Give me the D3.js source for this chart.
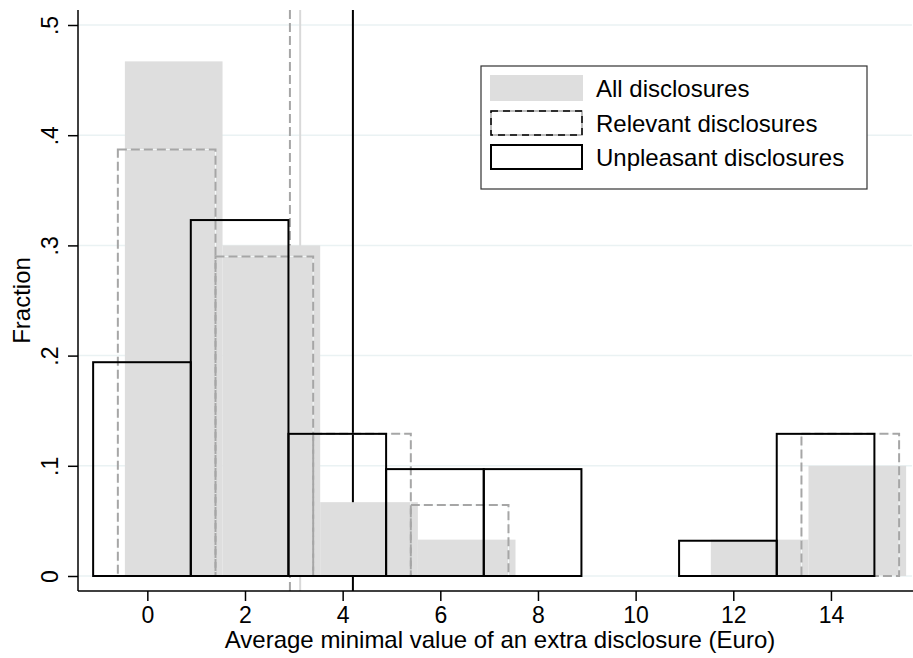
<!DOCTYPE html>
<html><head><meta charset="utf-8">
<script src="https://cdn.jsdelivr.net/npm/d3@7"></script>
<style>body{margin:0;background:#fff}svg{display:block}text{font-family:"Liberation Sans",Arial,sans-serif;fill:#000}</style>
</head><body><svg id="c" width="913" height="658"></svg>
<script>
// Histogram bin settings (data units, Euro)
const binWidth = 2.0;
const allStart = -0.46;
const relStart = -0.604;
const unpStart = -1.11;
// Fractions per bin
const allFrac = [0.467, 0.300, 0.067, 0.033, 0, 0, 0.033, 0.100];
const relFrac = [0.387, 0.290, 0.129, 0.0645, 0, 0, 0, 0.129];
const unpFrac = [0.194, 0.323, 0.129, 0.097, 0.097, 0, 0.032, 0.129];
// Mean lines
const meanRel = 2.92, meanAll = 3.13, meanUnp = 4.21;
// Ticks
const xTicks = [0, 2, 4, 6, 8, 10, 12, 14];
const yTicks = [0, 0.1, 0.2, 0.3, 0.4, 0.5];
const yTickLabels = ["0", ".1", ".2", ".3", ".4", ".5"];
const legendLabels = ["All disclosures", "Relevant disclosures", "Unpleasant disclosures"];

const svg = d3.select("#c");
const L = 78, R = 912, AX = 591;
const x = d3.scaleLinear().domain([-1.42, 15.66]).range([L, R]);
const y = d3.scaleLinear().domain([0, 0.5]).range([576, 25]);
const yTop = y(0.5136);

const bins = (start, fr) => fr.map((f, i) => ({x0: start + i * binWidth, x1: start + (i + 1) * binWidth, f})).filter(d => d.f > 0);

// gridlines
svg.append("g").selectAll("line").data(yTicks).join("line")
  .attr("x1", L).attr("x2", R).attr("y1", d => y(d)).attr("y2", d => y(d))
  .attr("stroke", "#eaf2f3").attr("stroke-width", 1.5);

// mean lines
svg.append("line").attr("x1", x(meanAll)).attr("x2", x(meanAll)).attr("y1", yTop).attr("y2", AX)
  .attr("stroke", "#d9d9d9").attr("stroke-width", 2);
svg.append("line").attr("x1", x(meanRel)).attr("x2", x(meanRel)).attr("y1", yTop).attr("y2", AX)
  .attr("stroke", "#a6a6a6").attr("stroke-width", 2).attr("stroke-dasharray", "9,4");
svg.append("line").attr("x1", x(meanUnp)).attr("x2", x(meanUnp)).attr("y1", yTop).attr("y2", AX)
  .attr("stroke", "#000").attr("stroke-width", 2);

// All: gray fill
svg.append("g").selectAll("rect").data(bins(allStart, allFrac)).join("rect")
  .attr("x", d => x(d.x0)).attr("width", d => x(d.x1) - x(d.x0))
  .attr("y", d => y(d.f)).attr("height", d => y(0) - y(d.f))
  .attr("fill", "#dedede");

// Relevant: dashed outline
const relG = svg.append("g");
relG.selectAll("rect.u").data(bins(relStart, relFrac)).join("rect").attr("class", "u")
  .attr("x", d => x(d.x0)).attr("width", d => x(d.x1) - x(d.x0))
  .attr("y", d => y(d.f)).attr("height", d => y(0) - y(d.f))
  .attr("fill", "none").attr("stroke", "#f4f8f8").attr("stroke-width", 1);
relG.selectAll("rect.d").data(bins(relStart, relFrac)).join("rect").attr("class", "d")
  .attr("x", d => x(d.x0)).attr("width", d => x(d.x1) - x(d.x0))
  .attr("y", d => y(d.f)).attr("height", d => y(0) - y(d.f))
  .attr("fill", "none").attr("stroke", "#a6a6a6").attr("stroke-width", 2).attr("stroke-dasharray", "9,4");

// Unpleasant: black outline
svg.append("g").selectAll("rect").data(bins(unpStart, unpFrac)).join("rect")
  .attr("x", d => x(d.x0)).attr("width", d => x(d.x1) - x(d.x0))
  .attr("y", d => y(d.f)).attr("height", d => y(0) - y(d.f))
  .attr("fill", "none").attr("stroke", "#000").attr("stroke-width", 2);

// Axes
const xAxis = svg.append("g").attr("transform", `translate(0,${AX})`)
  .call(d3.axisBottom(x).tickValues(xTicks).tickSize(10).tickPadding(6).tickFormat(d3.format("d")));
xAxis.select(".domain").attr("d", `M${L},0H${R + 1}`).attr("stroke-width", 1.5);
xAxis.selectAll(".tick line").attr("stroke-width", 1.5);
xAxis.selectAll(".tick text").attr("font-size", 23).attr("font-family", "Liberation Sans, Arial, sans-serif").attr("dy", "0.71em");

const yAxis = svg.append("g").attr("transform", `translate(${L},0)`)
  .call(d3.axisLeft(y).tickValues(yTicks).tickSize(10).tickFormat((d, i) => yTickLabels[i]));
yAxis.select(".domain").attr("d", `M0,${yTop}V${AX}`).attr("stroke-width", 1.5);
yAxis.selectAll(".tick line").attr("stroke-width", 1.5);
yAxis.selectAll(".tick text").attr("font-size", 23).attr("font-family", "Liberation Sans, Arial, sans-serif")
  .attr("x", null).attr("dy", null).attr("text-anchor", "middle")
  .attr("transform", "translate(-20,0) rotate(-90)");

// Axis titles
svg.append("text").attr("x", 500).attr("y", 648).attr("text-anchor", "middle").attr("font-size", 24)
  .text("Average minimal value of an extra disclosure (Euro)");
svg.append("text").attr("transform", `translate(30,${(yTop + AX) / 2}) rotate(-90)`).attr("text-anchor", "middle").attr("font-size", 24)
  .text("Fraction");

// Legend
const lg = svg.append("g");
lg.append("rect").attr("x", 481).attr("y", 66).attr("width", 386).attr("height", 123)
  .attr("fill", "#fff").attr("stroke", "#333").attr("stroke-width", 1.2);
const rows = [88, 123, 157];
lg.append("rect").attr("x", 490).attr("y", rows[0] - 13).attr("width", 93).attr("height", 26).attr("fill", "#dedede");
lg.append("rect").attr("x", 491).attr("y", rows[1] - 12).attr("width", 91).attr("height", 24)
  .attr("fill", "none").attr("stroke", "#a6a6a6").attr("stroke-width", 1.5);
lg.append("rect").attr("x", 491).attr("y", rows[1] - 12).attr("width", 91).attr("height", 24)
  .attr("fill", "none").attr("stroke", "#000").attr("stroke-width", 1.5).attr("stroke-dasharray", "7,5");
lg.append("rect").attr("x", 491).attr("y", rows[2] - 12).attr("width", 91).attr("height", 24)
  .attr("fill", "none").attr("stroke", "#000").attr("stroke-width", 2);
lg.selectAll("text").data(legendLabels).join("text")
  .attr("x", 596).attr("y", (d, i) => rows[i] + 8.5).attr("font-size", 24).text(d => d);
</script></body></html>
